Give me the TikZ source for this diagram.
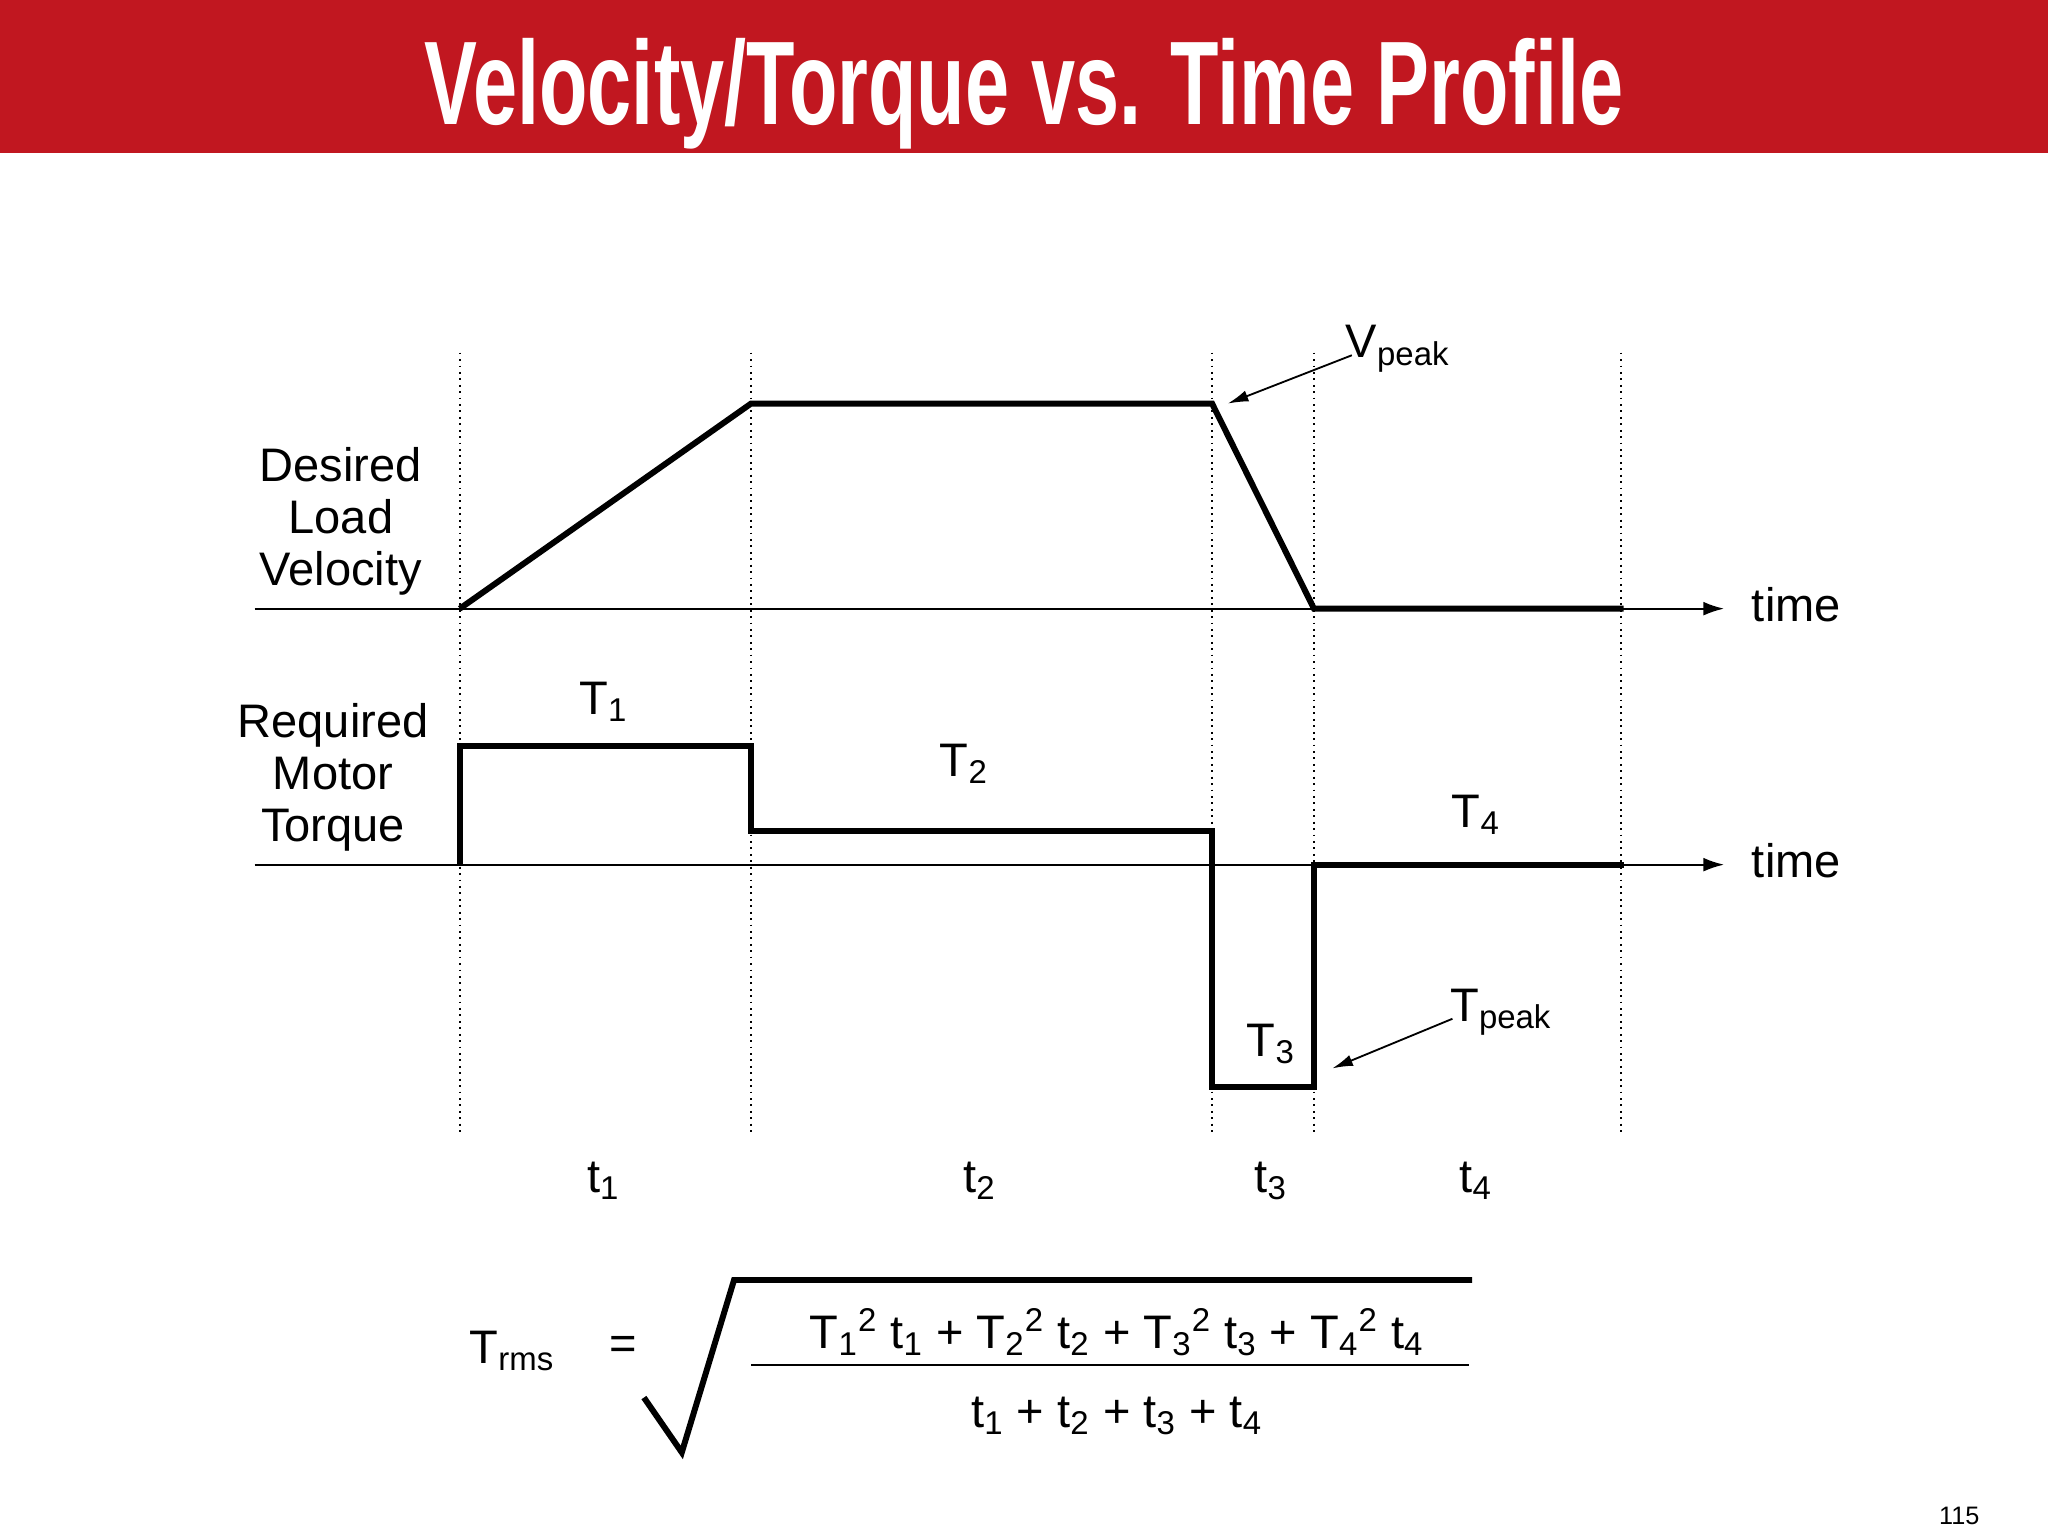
\documentclass[tikz,border=0pt]{standalone}
\usepackage{fontspec}
\setmainfont{Liberation Sans}
\usetikzlibrary{arrows.meta}
\definecolor{banner}{RGB}{193,23,32}
\newcommand{\sub}[2]{#1\textsubscript{#2}}
\begin{document}
\begin{tikzpicture}[x=0.02cm,y=-0.02cm,
  txt/.style={font=\fontsize{20.5}{22.7}\selectfont, inner sep=0pt},
  prof/.style={line width=2.6pt, line join=miter},
  axis/.style={line width=0.8pt,-{Latex[length=9pt,width=6pt]}},
  guide/.style={line width=0.8pt, dotted},
  ptr/.style={line width=0.8pt,-{Latex[length=9pt,width=5pt]}}]
\useasboundingbox (0,0) rectangle (1568,1176);
\fill[banner] (0,0) rectangle (1568,117);
\node[text=white, inner sep=0pt] (title) at (784,72) {\resizebox{18.35cm}{1.32cm}{\bfseries Velocity/Torque vs. Time Profile}};
% guides
\foreach \x [count=\i] in {352,575,928,1006,1241} {
  \coordinate (gt\i) at (\x,270); \coordinate (gb\i) at (\x,870);
  \draw[guide] (gt\i) -- (gb\i);}
% axes
\coordinate (va0) at (195,466); \coordinate (va1) at (1320,466);
\coordinate (ta0) at (195,662); \coordinate (ta1) at (1320,662);
\draw[axis] (va0) -- (va1);
\draw[axis] (ta0) -- (ta1);
\node[txt, anchor=west] (time1) at (1341,463) {time};
\node[txt, anchor=west] (time2) at (1341,659) {time};
% velocity
\draw[prof] (352,466) -- (575,309) -- (928,309) -- (1006,466) -- (1243,466);
\coordinate (vp) at (940,309);
\node[txt, anchor=west] (vpeak) at (1030,267) {\sub{V}{peak}};
\draw[ptr] (1035,272) -- (vp);
% torque
\draw[prof] (352,662) -- (352,571) -- (575,571) -- (575,636) -- (928,636) -- (928,832) -- (1006,832) -- (1006,662) -- (1243,662);
\coordinate (tp) at (1020,818);
\node[txt, anchor=west] (tpeak) at (1110,775) {\sub{T}{peak}};
\draw[ptr] (1112,780) -- (tp);
\node[txt] (T1) at (462,537) {\sub{T}{1}};
\node[txt] (T2) at (738,585) {\sub{T}{2}};
\node[txt] (T3) at (973,799) {\sub{T}{3}};
\node[txt] (T4) at (1130,624) {\sub{T}{4}};
% left labels
\node[txt, align=center] (dlv) at (261,399) {Desired\\Load\\Velocity};
\node[txt, align=center] (rmt) at (255,595) {Required\\Motor\\Torque};
% time intervals
\node[txt] (t1) at (462,904) {\sub{t}{1}};
\node[txt] (t2) at (750,904) {\sub{t}{2}};
\node[txt] (t3) at (973,904) {\sub{t}{3}};
\node[txt] (t4) at (1130,904) {\sub{t}{4}};
% formula
\node[txt] (trms) at (392,1034) {\sub{T}{rms}};
\node[txt] (eq) at (477,1032) {=};
\draw[line width=2.6pt, line join=miter] (493,1070) -- (522,1112) -- (562,980) -- (1127,980);
\draw[line width=1pt] (575,1045) -- (1125,1045);
\node[txt] (num) at (855,1020) {T\textsubscript{1}\textsuperscript{2} t\textsubscript{1} + T\textsubscript{2}\textsuperscript{2} t\textsubscript{2} + T\textsubscript{3}\textsuperscript{2} t\textsubscript{3} + T\textsubscript{4}\textsuperscript{2} t\textsubscript{4}};
\node[txt] (den) at (855,1084) {t\textsubscript{1} + t\textsubscript{2} + t\textsubscript{3} + t\textsubscript{4}};
\node[font=\fontsize{11}{13}\selectfont, inner sep=0pt] (pg) at (1500,1161) {115};
\end{tikzpicture}
\end{document}
